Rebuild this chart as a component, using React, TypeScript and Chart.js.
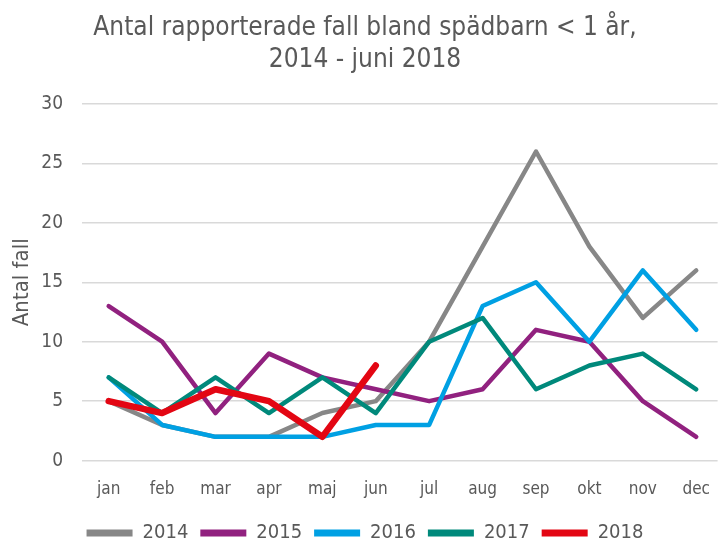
import React, { useEffect, useRef } from "react";
import { Chart, registerables } from "chart.js";

Chart.register(...registerables);

const months = ["jan", "feb", "mar", "apr", "maj", "jun", "jul", "aug", "sep", "okt", "nov", "dec"];
const seriesNames = ["2014", "2015", "2016", "2017", "2018"];
const v2014 = [5, 3, 2, 2, 4, 5, 10, 18, 26, 18, 12, 16];
const v2015 = [13, 10, 4, 9, 7, 6, 5, 6, 11, 10, 5, 2];
const v2016 = [7, 3, 2, 2, 2, 3, 3, 13, 15, 10, 16, 11];
const v2017 = [7, 4, 7, 4, 7, 4, 10, 12, 6, 8, 9, 6];
const v2018 = [5, 4, 6, 5, 2, 8];
const colors = ["#878787", "#91217f", "#00a0e3", "#00897b", "#e30613"];
const widths = [4.5, 4.5, 4.5, 4.5, 6.5];
const titleLines = ["Antal rapporterade fall bland spädbarn < 1 år,", "2014 - juni 2018"];
const yTitle = "Antal fall";

const FONT = "'DejaVu Sans Condensed', 'Liberation Sans Narrow', 'DejaVu Sans', sans-serif";
const TEXT = "#595959";

export default function App() {
  const ref = useRef<HTMLCanvasElement | null>(null);
  useEffect(() => {
    if (!ref.current) return;
    const all = [v2014, v2015, v2016, v2017, v2018];
    const chart = new Chart(ref.current, {
      type: "line",
      data: {
        datasets: all.map((vals, di) => ({
          label: seriesNames[di],
          data: vals.map((v, i) => ({ x: i, y: v })),
          borderColor: colors[di],
          backgroundColor: colors[di],
          borderWidth: widths[di],
          pointRadius: 0,
          tension: 0,
          order: 4 - di,
          borderJoinStyle: "round" as const,
          borderCapStyle: "round" as const,
        })),
      },
      options: {
        animation: false,
        responsive: false,
        layout: { padding: { left: 9, right: 0, top: 4, bottom: -12 } },
        plugins: {
          title: {
            display: true,
            text: titleLines,
            color: TEXT,
            font: { family: FONT, size: 26, weight: "normal", lineHeight: 1.23 },
            padding: { top: 8, bottom: 28 },
          },
          legend: {
            position: "bottom",
            labels: {
              color: TEXT,
              font: { family: FONT, size: 20 },
              boxWidth: 46,
              boxHeight: 7,
              padding: 12,
              generateLabels: (c: any) =>
                c.data.datasets.map((d: any, i: number) => ({
                  text: d.label,
                  fillStyle: d.borderColor,
                  strokeStyle: d.borderColor,
                  lineWidth: 0,
                  hidden: false,
                  datasetIndex: i,
                  fontColor: TEXT,
                })),
            },
          },
          tooltip: { enabled: false },
        },
        scales: {
          x: {
            type: "linear",
            min: -0.5,
            max: 11.4,
            grid: { display: false },
            border: { display: false },
            afterBuildTicks: (s: any) => {
              s.ticks = months.map((_, i) => ({ value: i }));
            },
            ticks: {
              color: TEXT,
              font: { family: FONT, size: 17 },
              padding: 11,
              maxRotation: 0,
              autoSkip: false,
              callback: (v: any) => months[v as number] ?? "",
            },
          },
          y: {
            min: 0,
            max: 30,
            grid: { color: "#d9d9d9", lineWidth: 1.5, drawTicks: false },
            border: { display: false },
            afterFit: (s: any) => {
              s.width = 73;
            },
            ticks: {
              stepSize: 5,
              color: TEXT,
              font: { family: FONT, size: 19 },
              padding: 19,
            },
            title: {
              display: true,
              text: yTitle,
              color: TEXT,
              font: { family: FONT, size: 22 },
              padding: { top: 0, bottom: 0 },
            },
          },
        },
      },
    });
    return () => chart.destroy();
  }, []);
  return (
    <div style={{ position: "fixed", left: 0, top: 0, width: 721, height: 541, background: "#fff" }}>
      <canvas ref={ref} width={721} height={541} />
    </div>
  );
}
